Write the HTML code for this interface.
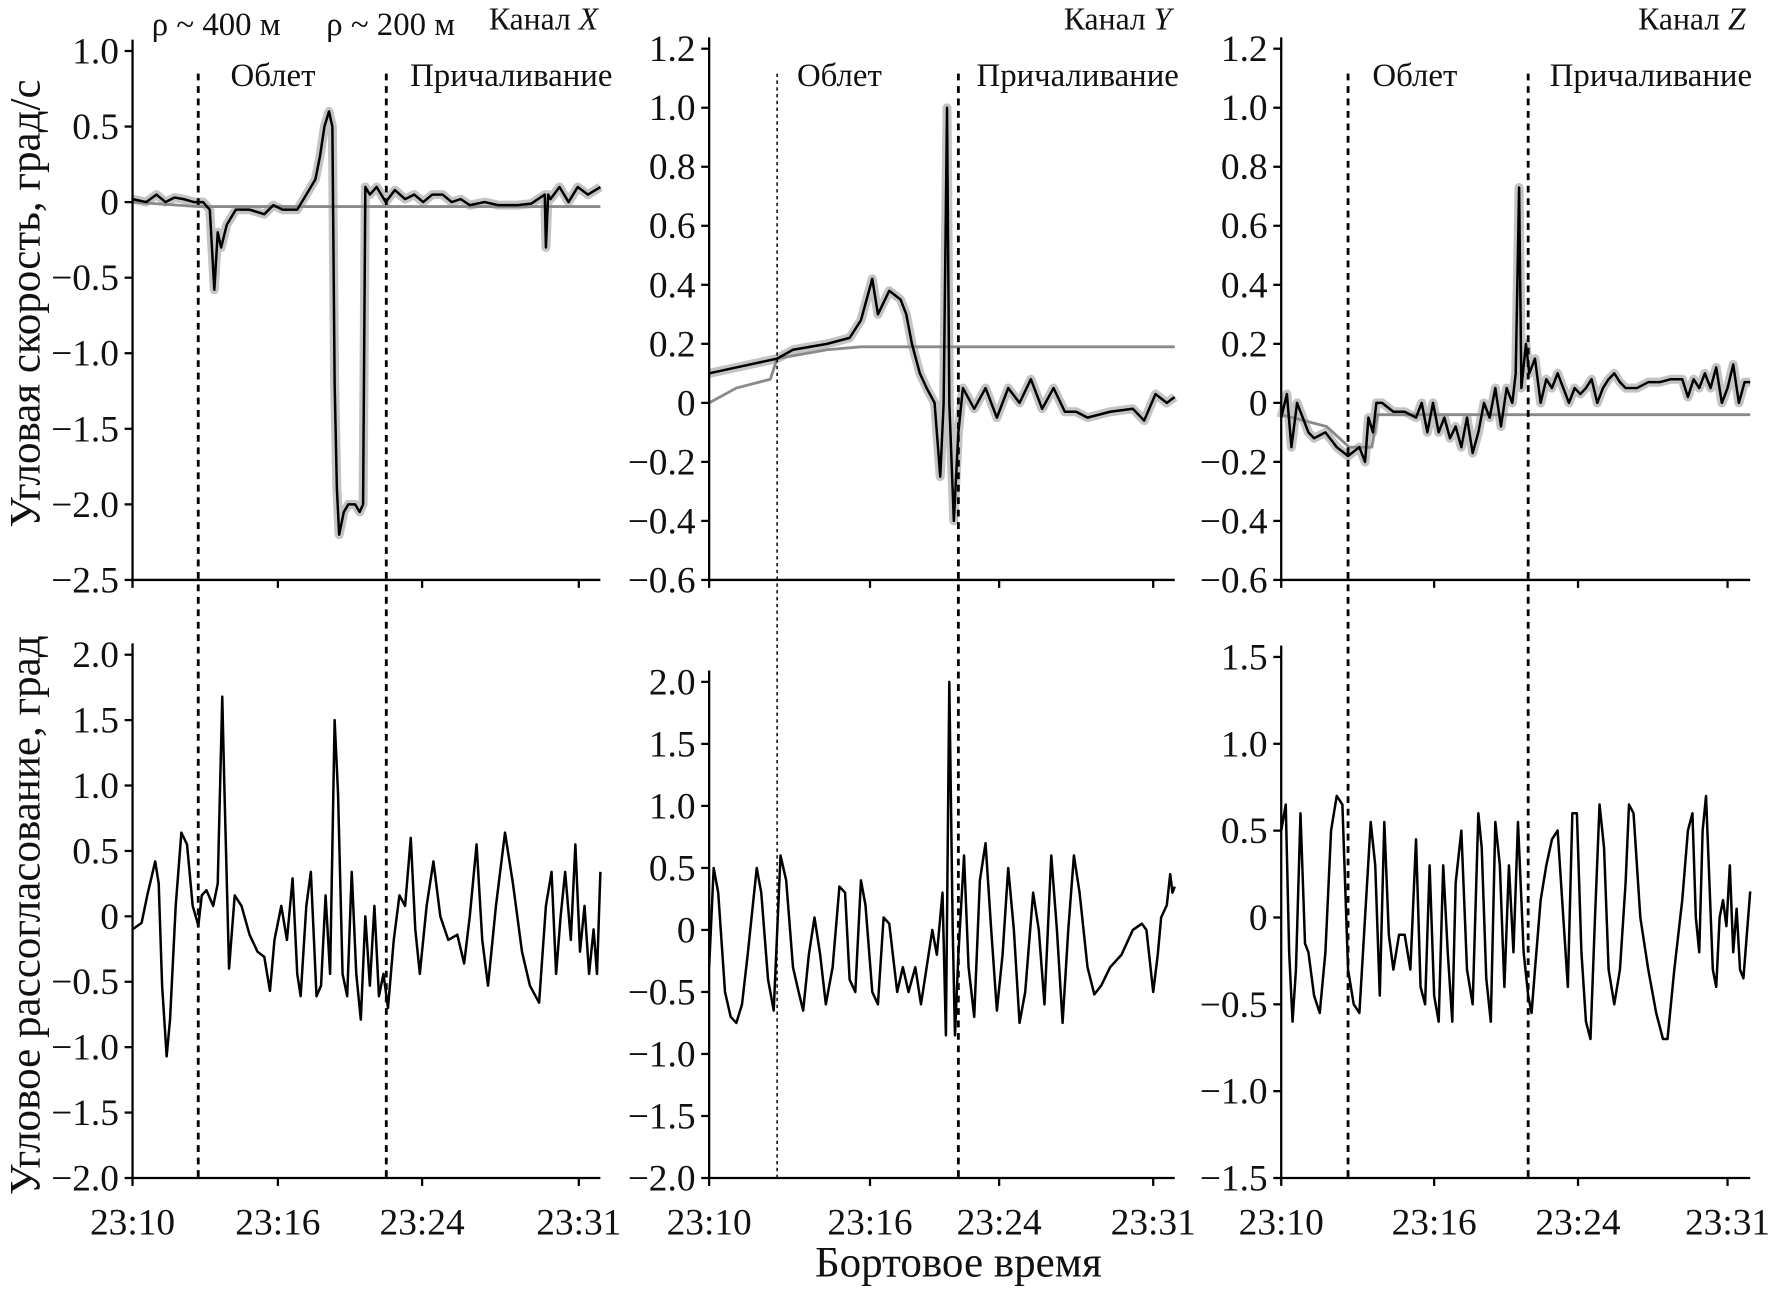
<!DOCTYPE html>
<html><head><meta charset="utf-8"><style>
html,body{margin:0;padding:0;background:#fff}
svg{display:block}
text{font-family:"Liberation Serif",serif;fill:#111}
</style></head><body>
<svg id="chart" width="1774" height="1289" viewBox="0 0 1566 1138" preserveAspectRatio="none" xmlns="http://www.w3.org/2000/svg"></svg>
<script>
// ---- data ----
const timeLabels = ["23:10","23:16","23:24","23:31"];
const xTicksX = [0,128,255,393];
const xTicksY = [0,142,256,392];
const xTicksZ = [0,135,262,394];
const topTicksX = [1.0,0.5,0,-0.5,-1.0,-1.5,-2.0,-2.5];
const topTicksYZ = [1.2,1.0,0.8,0.6,0.4,0.2,0,-0.2,-0.4,-0.6];
const botTicksXY = [2.0,1.5,1.0,0.5,0,-0.5,-1.0,-1.5,-2.0];
const botTicksZ = [1.5,1.0,0.5,0,-0.5,-1.0,-1.5];

const xTopT = [0,12,21,29,37,45,54,62,68,72,75,78,83,91,103,116,124,132,145,153,157,161,165,169,173,176,178,180,182,186,190,196,200,203,205,209,215,223,231,240,248,256,264,273,281,289,297,310,322,339,351,363,364,366,368,376,384,392,401,412];
const xTopV = [0.02,0.0,0.05,0.0,0.03,0.02,0.0,0.0,-0.05,-0.58,-0.2,-0.3,-0.15,-0.05,-0.05,-0.08,-0.02,-0.05,-0.05,0.05,0.1,0.15,0.3,0.5,0.6,0.5,-1.2,-1.9,-2.2,-2.05,-2.0,-2.0,-2.05,-2.0,0.1,0.05,0.1,0.0,0.08,0.02,0.05,0.0,0.05,0.05,0.0,0.02,-0.02,0.0,-0.02,-0.02,-0.01,0.05,-0.3,0.05,0.02,0.1,0.0,0.1,0.05,0.1];
const xRefT = [0,58,412];
const xRefV = [0.0,-0.03,-0.03];
const xBotT = [0,8,13,20,23,26,30,33,38,43,48,53,58,61,65,71,75,79,81,85,90,96,103,110,116,121,125,131,136,141,145,148,153,157,162,166,170,174,178,181,185,189,193,197,201,205,209,213,217,221,225,230,235,240,245,249,253,259,265,271,278,286,292,297,303,308,313,320,328,335,343,350,358,364,369,373,377,381,386,390,394,398,402,406,409,412];
const xBotV = [-0.10,-0.05,0.16,0.42,0.25,-0.53,-1.07,-0.79,0.08,0.64,0.55,0.08,-0.07,0.16,0.2,0.08,0.25,1.68,0.94,-0.4,0.16,0.08,-0.14,-0.27,-0.31,-0.57,-0.18,0.08,-0.18,0.29,-0.44,-0.61,0.08,0.34,-0.61,-0.53,0.16,-0.44,1.5,0.94,-0.44,-0.61,0.34,-0.44,-0.79,0,-0.53,0.08,-0.61,-0.44,-0.7,-0.18,0.16,0.08,0.6,-0.1,-0.44,0.08,0.42,0,-0.18,-0.14,-0.36,0,0.55,-0.18,-0.53,0.08,0.64,0.25,-0.27,-0.53,-0.66,0.08,0.34,-0.44,0,0.34,-0.18,0.55,-0.27,0.08,-0.44,-0.1,-0.44,0.34];

const yTopT = [0,24,60,74,104,124,134,144,149,159,169,174,179,186,192,199,204,207,210,212,216,220,224,234,244,254,264,274,284,294,304,314,324,334,354,374,384,394,404,411];
const yTopV = [0.1,0.12,0.15,0.18,0.2,0.22,0.28,0.42,0.3,0.38,0.35,0.3,0.2,0.1,0.05,0.0,-0.25,0.0,1.0,0.0,-0.4,-0.1,0.05,-0.02,0.05,-0.05,0.05,0.0,0.08,-0.02,0.05,-0.03,-0.03,-0.05,-0.03,-0.02,-0.06,0.03,0.0,0.02];
const yRefT = [0,24,54,60,104,134,411];
const yRefV = [0.0,0.05,0.08,0.15,0.18,0.19,0.19];
const yBotT = [0,4,8,14,19,24,29,34,42,46,52,57,63,68,74,79,83,88,93,98,103,109,115,120,124,129,134,138,144,149,154,159,166,171,176,182,187,192,197,201,206,209,212,215,217,220,225,229,234,239,244,249,254,259,264,269,274,279,286,291,296,302,307,312,317,322,327,334,340,346,354,364,374,382,386,392,396,399,404,407,409,411];
const yBotV = [-0.3,0.5,0.3,-0.5,-0.7,-0.75,-0.6,-0.2,0.5,0.3,-0.4,-0.65,0.6,0.4,-0.3,-0.5,-0.65,-0.2,0.1,-0.2,-0.6,-0.3,0.35,0.3,-0.4,-0.5,0.4,0.2,-0.5,-0.6,0.1,0.05,-0.5,-0.3,-0.5,-0.3,-0.6,-0.3,0.0,-0.2,0.3,-0.85,2.0,0.0,-0.85,-0.2,0.6,-0.3,-0.7,0.4,0.7,0.0,-0.65,-0.2,0.5,0.0,-0.75,-0.5,0.3,0.0,-0.6,0.6,0.0,-0.75,0.0,0.6,0.3,-0.3,-0.52,-0.45,-0.3,-0.2,0.0,0.05,0.0,-0.5,-0.2,0.1,0.2,0.45,0.3,0.35];

const zTopT = [0,5,9,14,19,24,29,39,49,59,69,74,77,81,84,89,99,109,119,124,129,134,139,144,149,154,159,164,169,174,179,184,189,194,199,204,207,210,212,216,219,224,229,234,239,244,249,254,259,264,269,274,279,284,289,294,299,304,314,324,334,344,354,359,364,369,374,379,384,389,394,399,404,409,414];
const zTopV = [-0.05,0.03,-0.15,0.0,-0.05,-0.1,-0.12,-0.1,-0.15,-0.18,-0.15,-0.2,-0.05,-0.1,0.0,0.0,-0.03,-0.03,-0.05,0.0,-0.1,0.0,-0.1,-0.05,-0.12,-0.08,-0.15,-0.05,-0.17,-0.1,0.0,-0.05,0.05,-0.08,0.05,0.0,0.1,0.73,0.05,0.2,0.1,0.15,0.0,0.08,0.05,0.1,0.05,0.0,0.05,0.03,0.05,0.08,0.0,0.05,0.08,0.1,0.07,0.05,0.05,0.07,0.07,0.08,0.08,0.02,0.08,0.05,0.1,0.05,0.12,0.0,0.05,0.13,0.0,0.07,0.07];
const zRefT = [0,40,60,80,85,414];
const zRefV = [-0.04,-0.08,-0.15,-0.15,-0.04,-0.04];
const zBotT = [0,4,7,10,13,17,21,24,29,34,39,44,49,54,59,64,69,74,79,83,87,91,95,99,104,109,114,119,123,127,131,135,139,143,147,151,154,159,164,169,174,177,181,185,189,193,197,201,205,209,214,218,221,224,229,234,239,244,249,253,257,261,265,269,273,277,281,285,289,294,299,304,307,311,317,324,331,337,341,347,354,359,363,366,369,372,375,378,381,384,387,390,393,396,399,402,405,408,411,414];
const zBotV = [0.5,0.65,-0.2,-0.6,-0.3,0.6,-0.15,-0.2,-0.45,-0.55,-0.2,0.5,0.7,0.65,-0.3,-0.5,-0.55,0.0,0.55,0.3,-0.45,0.55,-0.1,-0.3,-0.1,-0.1,-0.3,0.45,-0.4,-0.5,0.3,-0.45,-0.6,0.3,-0.2,-0.6,0.2,0.5,-0.3,-0.5,0.6,0.4,-0.35,-0.6,0.55,0.3,-0.4,0.3,-0.2,0.55,-0.2,-0.45,-0.55,-0.3,0.1,0.3,0.45,0.5,0.0,-0.4,0.6,0.6,-0.2,-0.6,-0.7,0.0,0.65,0.4,-0.3,-0.5,-0.3,0.2,0.65,0.6,0.0,-0.3,-0.55,-0.7,-0.7,-0.3,0.1,0.5,0.6,0.0,-0.2,0.5,0.7,0.2,-0.3,-0.4,0.0,0.1,-0.05,0.3,-0.2,0.05,-0.3,-0.35,-0.1,0.15];

// ---- drawing ----
const svg = document.getElementById('chart');
const NS = 'http://www.w3.org/2000/svg';
function mk(tag, attrs, parent){
  const e = document.createElementNS(NS, tag);
  for (const k in attrs) e.setAttribute(k, attrs[k]);
  (parent||svg).appendChild(e);
  return e;
}
function fmt(v){ if (v===0) return '0'; const s=Math.abs(v).toFixed(1); return (v<0?'\u2212':'')+s; }

function panel(name, x0, x1, tMax, yTop, yBot, vTop, vBot, ticks, xticks, series){
  const g = mk('g', {});
  
  
  const sx = t => x0 + t/tMax*(x1-x0);
  const sy = v => yTop + (vTop - v)/(vTop - vBot)*(yBot - yTop);
  series.forEach(s => {
    const n = Math.min(s.t.length, s.v.length);
    let d = '';
    for (let i=0;i<n;i++) d += (i?'L':'M') + sx(s.t[i]).toFixed(1) + ' ' + sy(s.v[i]).toFixed(1);
    const p = mk('path', {d:d, fill:'none', stroke:s.color, 'stroke-width':s.w, 'stroke-linejoin':'round'}, g);
    
    
  });
  const ya = mk('line', {x1:x0, y1:yTop-10, x2:x0, y2:yBot, stroke:'#000', 'stroke-width':2}, g);
  
  
  const xa = mk('line', {x1:x0, y1:yBot, x2:x1, y2:yBot, stroke:'#000', 'stroke-width':2}, g);
  
  
  ticks.forEach(v => {
    const y = sy(v);
    mk('line', {x1:x0-7, y1:y, x2:x0, y2:y, stroke:'#000', 'stroke-width':2}, g);
    const tx = mk('text', {x:x0-12, y:y+11, 'text-anchor':'end', 'font-size':33}, g);
    tx.textContent = fmt(v);
    
    
  });
  xticks.forEach((t,i) => {
    const x = sx(t);
    mk('line', {x1:x, y1:yBot, x2:x, y2:yBot+7, stroke:'#000', 'stroke-width':2}, g);
    if (yBot > 900) {
      const tx = mk('text', {x:x, y:yBot+50, 'text-anchor':'middle', 'font-size':33}, g);
      tx.textContent = timeLabels[i];
      
      
    }
  });
}

const LG = '#c4c4c4', RG = '#8a8a8a';
panel('panel-x-rate', 117, 530, 412, 45, 512, 1.0, -2.5, topTicksX, xTicksX, [
  {name:'x-rate-band', t:xTopT, v:xTopV, color:LG, w:8},
  {name:'x-rate-reference', t:xRefT, v:xRefV, color:RG, w:2.5},
  {name:'x-rate-line', t:xTopT, v:xTopV, color:'#000', w:2.2}]);
panel('panel-x-error', 117, 530, 412, 578, 1040, 2.0, -2.0, botTicksXY, xTicksX, [
  {name:'x-error-line', t:xBotT, v:xBotV, color:'#000', w:2.2}]);
panel('panel-y-rate', 626, 1037, 411, 43, 512, 1.2, -0.6, topTicksYZ, xTicksY, [
  {name:'y-rate-band', t:yTopT, v:yTopV, color:LG, w:8},
  {name:'y-rate-reference', t:yRefT, v:yRefV, color:RG, w:2.5},
  {name:'y-rate-line', t:yTopT, v:yTopV, color:'#000', w:2.2}]);
panel('panel-y-error', 626, 1037, 411, 602, 1040, 2.0, -2.0, botTicksXY, xTicksY, [
  {name:'y-error-line', t:yBotT, v:yBotV, color:'#000', w:2.2}]);
panel('panel-z-rate', 1131, 1545, 414, 43, 512, 1.2, -0.6, topTicksYZ, xTicksZ, [
  {name:'z-rate-band', t:zTopT, v:zTopV, color:LG, w:8},
  {name:'z-rate-reference', t:zRefT, v:zRefV, color:RG, w:2.5},
  {name:'z-rate-line', t:zTopT, v:zTopV, color:'#000', w:2.2}]);
panel('panel-z-error', 1131, 1545, 414, 580, 1040, 1.5, -1.5, botTicksZ, xTicksZ, [
  {name:'z-error-line', t:zBotT, v:zBotV, color:'#000', w:2.2}]);

// phase markers
[[175,'6 5',2.5],[341,'6 5',2.5],[686,'3 3',1.3],[846,'6 5',2.5],[1190,'6 5',2.5],[1349,'6 5',2.5]].forEach(m => {
  const l = mk('line', {x1:m[0], y1:65, x2:m[0], y2:1040, stroke:'#000', 'stroke-width':m[2], 'stroke-dasharray':m[1]});
  
  
});
[[241,'Облет','middle'],[741,'Облет','middle'],[1249,'Облет','middle'],[362,'Причаливание','start'],[862,'Причаливание','start'],[1368,'Причаливание','start']].forEach(a => {
  const t = mk('text', {x:a[0], y:76, 'text-anchor':a[2], 'font-size':29});
  t.textContent = a[1];
  
  
});
[[528,'X'],[1034,'Y'],[1541,'Z']].forEach(c => {
  const t = mk('text', {x:c[0], y:26, 'text-anchor':'end', 'font-size':28});
  t.appendChild(document.createTextNode('Канал '));
  const s = mk('tspan', {'font-style':'italic'}, t); s.textContent = c[1];
  
  
});
[[134,'ρ ~ 400 м'],[288,'ρ ~ 200 м']].forEach(r => {
  const t = mk('text', {x:r[0], y:31, 'font-size':29});
  t.textContent = r[1];
  
  
});
let t1 = mk('text', {x:0, y:0, 'text-anchor':'middle', 'font-size':38, transform:'translate(35,268) rotate(-90)'});
t1.textContent = 'Угловая скорость, град/с';


let t2 = mk('text', {x:0, y:0, 'text-anchor':'middle', 'font-size':38, transform:'translate(35,808) rotate(-90)'});
t2.textContent = 'Угловое рассогласование, град';


let t3 = mk('text', {x:846, y:1127, 'text-anchor':'middle', 'font-size':38});
t3.textContent = 'Бортовое время';


</script>
</body></html>
